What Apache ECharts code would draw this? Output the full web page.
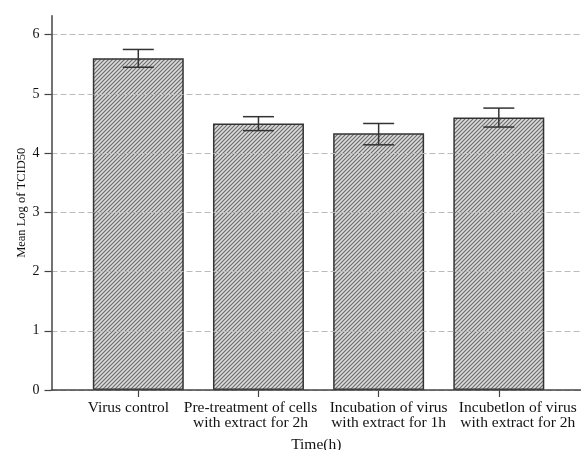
<!DOCTYPE html>
<html>
<head>
<meta charset="utf-8">
<style>html,body{margin:0;padding:0;background:#fff;}#c{width:581px;height:450px;}</style>
<script src="https://cdn.jsdelivr.net/npm/echarts@6/dist/echarts.min.js"></script>
</head>
<body>
<div id="c"></div>
<script>
var categories = ['Virus control', 'Pre-treatment of cells\nwith extract for 2h', 'Incubation of virus\nwith extract for 1h', 'Incubetlon of virus\nwith extract for 2h'];
var means = [5.60, 4.50, 4.335, 4.60];
var errLow = [5.45, 4.38, 4.14, 4.44];
var errHigh = [5.75, 4.615, 4.50, 4.76];
var yTicks = [0, 1, 2, 3, 4, 5, 6];

var FONT = 'Liberation Serif';
var YMAX = 6.32;

function hatch() {
  var c = document.createElement('canvas');
  c.width = 4; c.height = 4;
  var g = c.getContext('2d');
  g.fillStyle = '#dadada';
  g.fillRect(0, 0, 4, 4);
  g.strokeStyle = '#6a6a6a';
  g.lineWidth = 1.1;
  g.beginPath();
  g.moveTo(-1, 5); g.lineTo(5, -1);
  g.moveTo(-1, 1); g.lineTo(1, -1);
  g.moveTo(3, 5); g.lineTo(5, 3);
  g.stroke();
  return c;
}

var labelShift = [-20, -16, 20, 38];
var rich = {};
labelShift.forEach(function (s, i) {
  rich['l' + i] = {
    fontFamily: FONT, fontSize: 15.5, color: '#111', lineHeight: 14.5,
    padding: s < 0 ? [0, -s, 0, 0] : [0, 0, 0, s]
  };
});

var gridColors = yTicks.map(function () { return '#bbb'; }).concat(['rgba(0,0,0,0)']);

var chart = echarts.init(document.getElementById('c'), null, {renderer: 'canvas'});
chart.setOption({
  animation: false,
  grid: [
    {left: 51.5, right: 0, top: 15.7, bottom: 60, containLabel: false, outerBoundsMode: 'none'},
    {left: 78.2, right: 22.1, top: 15.7, bottom: 60, containLabel: false, outerBoundsMode: 'none'}
  ],
  xAxis: [
    {
      gridIndex: 0, type: 'value', min: 0, max: 1, z: 10,
      axisLine: {show: true, lineStyle: {color: '#444', width: 1.5}},
      axisTick: {show: false}, axisLabel: {show: false}, splitLine: {show: false},
      name: 'Time(h)', nameLocation: 'middle', nameGap: 47, nameMoveOverlap: false,
      nameTextStyle: {fontFamily: FONT, fontSize: 15.5, color: '#111'}
    },
    {
      gridIndex: 1, type: 'category', data: categories,
      axisLine: {show: false},
      axisTick: {show: true, alignWithLabel: true, length: 7, lineStyle: {color: '#444', width: 1.2}},
      axisLabel: {
        margin: 11, interval: 0,
        formatter: function (v, i) {
          return v.split('\n').map(function (t) { return '{l' + i + '|' + t + '}'; }).join('\n');
        },
        rich: rich
      }
    }
  ],
  yAxis: [
    {
      gridIndex: 0, type: 'value', min: 0, max: YMAX, interval: 1, z: 10,
      axisLine: {show: true, lineStyle: {color: '#444', width: 1.5}},
      axisTick: {show: true, length: 7, customValues: yTicks, lineStyle: {color: '#444', width: 1.2}},
      axisLabel: {
        margin: 12, fontFamily: FONT, fontSize: 14, color: '#111', customValues: yTicks
      },
      splitLine: {show: true, lineStyle: {color: gridColors, type: [6, 3], width: 1.2}},
      name: 'Mean Log of TCID50', nameLocation: 'middle', nameGap: 23, nameMoveOverlap: false,
      nameTextStyle: {fontFamily: FONT, fontSize: 12.5, color: '#111'}
    },
    {
      gridIndex: 1, type: 'value', min: 0, max: YMAX, interval: 1, show: false,
      splitLine: {show: false}
    }
  ],
  series: [
    {
      type: 'bar', xAxisIndex: 1, yAxisIndex: 1, data: means, barWidth: '75.7%',
      itemStyle: {color: {image: hatch(), repeat: 'repeat'}, borderColor: '#333', borderWidth: 1.5}
    },
    {
      type: 'custom', xAxisIndex: 1, yAxisIndex: 1,
      data: categories.map(function (c, i) { return [i, errLow[i], errHigh[i]]; }),
      renderItem: function (params, api) {
        var hi = api.coord([api.value(0), api.value(2)]);
        var lo = api.coord([api.value(0), api.value(1)]);
        var w = 15.5;
        var st = {stroke: '#333', lineWidth: 1.5};
        return {
          type: 'group',
          children: [
            {type: 'line', shape: {x1: hi[0], y1: hi[1], x2: lo[0], y2: lo[1]}, style: st},
            {type: 'line', shape: {x1: hi[0] - w, y1: hi[1], x2: hi[0] + w, y2: hi[1]}, style: st},
            {type: 'line', shape: {x1: lo[0] - w, y1: lo[1], x2: lo[0] + w, y2: lo[1]}, style: st}
          ]
        };
      },
      z: 5
    }
  ]
});
</script>
</body>
</html>
